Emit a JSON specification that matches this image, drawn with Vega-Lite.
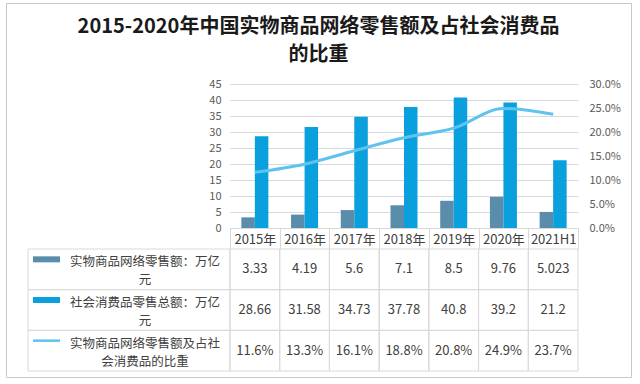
{
  "$schema": "https://vega.github.io/schema/vega-lite/v6.json",
  "width": 625,
  "height": 374,
  "autosize": {"type": "none"},
  "padding": {"left": 6, "top": 3, "right": 9, "bottom": 7},
  "background": "white",
  "config": {
    "view": {"stroke": "#c8c8c8", "strokeWidth": 1},
    "font": "Noto Sans CJK SC",
    "text": {"font": "Noto Sans CJK SC"}
  },
  "title": {
    "text": ["2015-2020年中国实物商品网络零售额及占社会消费品", "的比重"],
    "anchor": "middle",
    "frame": "group",
    "fontSize": 20,
    "fontWeight": "bold",
    "font": "Noto Sans CJK SC",
    "color": "#1a1a1a",
    "lineHeight": 28,
    "offset": -62
  },
  "datasets": {
    "bars": [
      {"year": "2015年", "series": "实物商品网络零售额：万亿元", "value": 3.33},
      {"year": "2016年", "series": "实物商品网络零售额：万亿元", "value": 4.19},
      {"year": "2017年", "series": "实物商品网络零售额：万亿元", "value": 5.6},
      {"year": "2018年", "series": "实物商品网络零售额：万亿元", "value": 7.1},
      {"year": "2019年", "series": "实物商品网络零售额：万亿元", "value": 8.5},
      {"year": "2020年", "series": "实物商品网络零售额：万亿元", "value": 9.76},
      {"year": "2021H1", "series": "实物商品网络零售额：万亿元", "value": 5.023},
      {"year": "2015年", "series": "社会消费品零售总额：万亿元", "value": 28.66},
      {"year": "2016年", "series": "社会消费品零售总额：万亿元", "value": 31.58},
      {"year": "2017年", "series": "社会消费品零售总额：万亿元", "value": 34.73},
      {"year": "2018年", "series": "社会消费品零售总额：万亿元", "value": 37.78},
      {"year": "2019年", "series": "社会消费品零售总额：万亿元", "value": 40.8},
      {"year": "2020年", "series": "社会消费品零售总额：万亿元", "value": 39.2},
      {"year": "2021H1", "series": "社会消费品零售总额：万亿元", "value": 21.2}
    ],
    "pct": [
      {"year": "2015年", "series": "实物商品网络零售额及占社会消费品的比重", "pct": 0.116},
      {"year": "2016年", "series": "实物商品网络零售额及占社会消费品的比重", "pct": 0.133},
      {"year": "2017年", "series": "实物商品网络零售额及占社会消费品的比重", "pct": 0.161},
      {"year": "2018年", "series": "实物商品网络零售额及占社会消费品的比重", "pct": 0.188},
      {"year": "2019年", "series": "实物商品网络零售额及占社会消费品的比重", "pct": 0.208},
      {"year": "2020年", "series": "实物商品网络零售额及占社会消费品的比重", "pct": 0.249},
      {"year": "2021H1", "series": "实物商品网络零售额及占社会消费品的比重", "pct": 0.237}
    ],
    "headers": [
      {"series": "实物商品网络零售额：万亿元", "label": "实物商品网络零售额：万亿\n元", "kind": "bar"},
      {"series": "社会消费品零售总额：万亿元", "label": "社会消费品零售总额：万亿\n元", "kind": "bar"},
      {"series": "实物商品网络零售额及占社会消费品的比重", "label": "实物商品网络零售额及占社\n会消费品的比重", "kind": "line"}
    ]
  },
  "resolve": {"scale": {"x": "independent", "y": "independent"}},
  "layer": [
    {
      "data": {"name": "bars"},
      "mark": {"type": "bar"},
      "encoding": {
        "x": {
          "field": "year", "type": "nominal", "sort": null,
          "scale": {"domain": ["2015年", "2016年", "2017年", "2018年", "2019年", "2020年", "2021H1"], "range": [224, 572], "paddingInner": 0, "paddingOuter": 0},
          "axis": {
            "orient": "bottom", "offset": -149, "title": null, "labelAngle": 0,
            "domain": true, "domainColor": "#d9d9d9", "ticks": true, "tickBand": "extent",
            "tickColor": "#d9d9d9", "tickSize": 21, "labelPadding": -10, "labelBaseline": "middle",
            "labelFontSize": 13, "labelColor": "#404040", "grid": false, "labelFont": "Noto Sans CJK SC"
          }
        },
        "xOffset": {
          "field": "series", "type": "nominal", "sort": null,
          "scale": {"domain": ["实物商品网络零售额：万亿元", "社会消费品零售总额：万亿元"], "paddingInner": 0, "paddingOuter": 0.84}
        },
        "y": {
          "field": "value", "type": "quantitative",
          "scale": {"domain": [0, 45], "range": [225, 81], "nice": false},
          "axis": {
            "orient": "left", "offset": -224, "title": null, "values": [0, 5, 10, 15, 20, 25, 30, 35, 40, 45],
            "domain": false, "ticks": false, "grid": true, "gridColor": "#d9d9d9",
            "labelPadding": 9, "labelFontSize": 11, "labelColor": "#595959", "labelFont": "Noto Sans CJK SC"
          }
        },
        "color": {
          "field": "series", "type": "nominal",
          "scale": {"domain": ["实物商品网络零售额：万亿元", "社会消费品零售总额：万亿元", "实物商品网络零售额及占社会消费品的比重"], "range": ["#5a8cab", "#0aa0dd", "#5ec3ef"]},
          "legend": null
        }
      }
    },
    {
      "data": {"name": "pct"},
      "mark": {"type": "line", "interpolate": "monotone", "strokeWidth": 3, "color": "#5ec3ef"},
      "encoding": {
        "x": {
          "field": "year", "type": "nominal", "sort": null,
          "scale": {"domain": ["2015年", "2016年", "2017年", "2018年", "2019年", "2020年", "2021H1"], "range": [224, 572], "paddingInner": 0, "paddingOuter": 0},
          "axis": null
        },
        "y": {
          "field": "pct", "type": "quantitative",
          "scale": {"domain": [0, 0.3], "range": [225, 81], "nice": false},
          "axis": {
            "orient": "right", "offset": -53, "title": null, "format": ".1%",
            "values": [0, 0.05, 0.1, 0.15, 0.2, 0.25, 0.3],
            "domain": false, "ticks": false, "grid": false,
            "labelPadding": 11, "labelFontSize": 11, "labelColor": "#595959", "labelFont": "Noto Sans CJK SC"
          }
        }
      }
    },
    {
      "data": {"name": "bars"},
      "mark": {"type": "rect", "fill": "transparent", "stroke": "#d9d9d9", "strokeWidth": 1},
      "encoding": {
        "x": {"field": "year", "type": "nominal", "sort": null, "scale": {"domain": ["2015年", "2016年", "2017年", "2018年", "2019年", "2020年", "2021H1"], "range": [224, 572], "paddingInner": 0, "paddingOuter": 0}, "axis": null},
        "y": {"field": "series", "type": "nominal", "sort": null, "scale": {"domain": ["实物商品网络零售额：万亿元", "社会消费品零售总额：万亿元", "实物商品网络零售额及占社会消费品的比重"], "range": [246, 368], "paddingInner": 0, "paddingOuter": 0}, "axis": null}
      }
    },
    {
      "data": {"name": "pct"},
      "mark": {"type": "rect", "fill": "transparent", "stroke": "#d9d9d9", "strokeWidth": 1},
      "encoding": {
        "x": {"field": "year", "type": "nominal", "sort": null, "scale": {"domain": ["2015年", "2016年", "2017年", "2018年", "2019年", "2020年", "2021H1"], "range": [224, 572], "paddingInner": 0, "paddingOuter": 0}, "axis": null},
        "y": {"field": "series", "type": "nominal", "sort": null, "scale": {"domain": ["实物商品网络零售额：万亿元", "社会消费品零售总额：万亿元", "实物商品网络零售额及占社会消费品的比重"], "range": [246, 368], "paddingInner": 0, "paddingOuter": 0}, "axis": null}
      }
    },
    {
      "data": {"name": "bars"},
      "mark": {"type": "text", "fontSize": 13, "color": "#404040", "baseline": "middle"},
      "encoding": {
        "x": {"field": "year", "type": "nominal", "sort": null, "scale": {"domain": ["2015年", "2016年", "2017年", "2018年", "2019年", "2020年", "2021H1"], "range": [224, 572], "paddingInner": 0, "paddingOuter": 0}, "axis": null},
        "y": {"field": "series", "type": "nominal", "sort": null, "scale": {"domain": ["实物商品网络零售额：万亿元", "社会消费品零售总额：万亿元", "实物商品网络零售额及占社会消费品的比重"], "range": [246, 368], "paddingInner": 0, "paddingOuter": 0}, "axis": null},
        "text": {"field": "value", "type": "nominal"}
      }
    },
    {
      "data": {"name": "pct"},
      "mark": {"type": "text", "fontSize": 13, "color": "#404040", "baseline": "middle"},
      "encoding": {
        "x": {"field": "year", "type": "nominal", "sort": null, "scale": {"domain": ["2015年", "2016年", "2017年", "2018年", "2019年", "2020年", "2021H1"], "range": [224, 572], "paddingInner": 0, "paddingOuter": 0}, "axis": null},
        "y": {"field": "series", "type": "nominal", "sort": null, "scale": {"domain": ["实物商品网络零售额：万亿元", "社会消费品零售总额：万亿元", "实物商品网络零售额及占社会消费品的比重"], "range": [246, 368], "paddingInner": 0, "paddingOuter": 0}, "axis": null},
        "text": {"field": "pct", "type": "quantitative", "format": ".1%"}
      }
    },
    {
      "data": {"name": "headers"},
      "mark": {"type": "rect", "fill": "transparent", "stroke": "#d9d9d9", "strokeWidth": 1},
      "encoding": {
        "x": {"datum": "h", "type": "nominal", "scale": {"domain": ["h"], "range": [22, 224], "paddingInner": 0, "paddingOuter": 0}, "axis": null},
        "y": {"field": "series", "type": "nominal", "sort": null, "scale": {"domain": ["实物商品网络零售额：万亿元", "社会消费品零售总额：万亿元", "实物商品网络零售额及占社会消费品的比重"], "range": [246, 368], "paddingInner": 0, "paddingOuter": 0}, "axis": null}
      }
    },
    {
      "data": {"name": "headers"},
      "mark": {"type": "text", "fontSize": 12.5, "color": "#404040", "baseline": "middle", "align": "center", "lineBreak": "\n", "lineHeight": 18, "dy": -7},
      "encoding": {
        "x": {"datum": "h", "type": "nominal", "scale": {"domain": ["h"], "range": [54, 224], "paddingInner": 0, "paddingOuter": 0}, "axis": null},
        "y": {"field": "series", "type": "nominal", "sort": null, "scale": {"domain": ["实物商品网络零售额：万亿元", "社会消费品零售总额：万亿元", "实物商品网络零售额及占社会消费品的比重"], "range": [246, 368], "paddingInner": 0, "paddingOuter": 0}, "axis": null},
        "text": {"field": "label", "type": "nominal"}
      }
    },
    {
      "data": {"name": "headers"},
      "transform": [{"filter": "datum.kind === 'bar'"}],
      "mark": {"type": "rect", "height": 6},
      "encoding": {
        "x": {"datum": "s", "type": "nominal", "scale": {"domain": ["s"], "range": [27, 54], "paddingInner": 0, "paddingOuter": 0}, "axis": null},
        "y": {"field": "series", "type": "nominal", "sort": null, "scale": {"domain": ["实物商品网络零售额：万亿元", "社会消费品零售总额：万亿元", "实物商品网络零售额及占社会消费品的比重"], "range": [236, 358], "paddingInner": 0, "paddingOuter": 0}, "axis": null},
        "color": {"field": "series", "type": "nominal", "legend": null}
      }
    },
    {
      "data": {"name": "headers"},
      "transform": [{"filter": "datum.kind === 'line'"}],
      "mark": {"type": "rect", "height": 2.5, "color": "#5ec3ef"},
      "encoding": {
        "x": {"datum": "s", "type": "nominal", "scale": {"domain": ["s"], "range": [27, 54], "paddingInner": 0, "paddingOuter": 0}, "axis": null},
        "y": {"field": "series", "type": "nominal", "sort": null, "scale": {"domain": ["实物商品网络零售额：万亿元", "社会消费品零售总额：万亿元", "实物商品网络零售额及占社会消费品的比重"], "range": [236, 358], "paddingInner": 0, "paddingOuter": 0}, "axis": null}
      }
    }
  ]
}
